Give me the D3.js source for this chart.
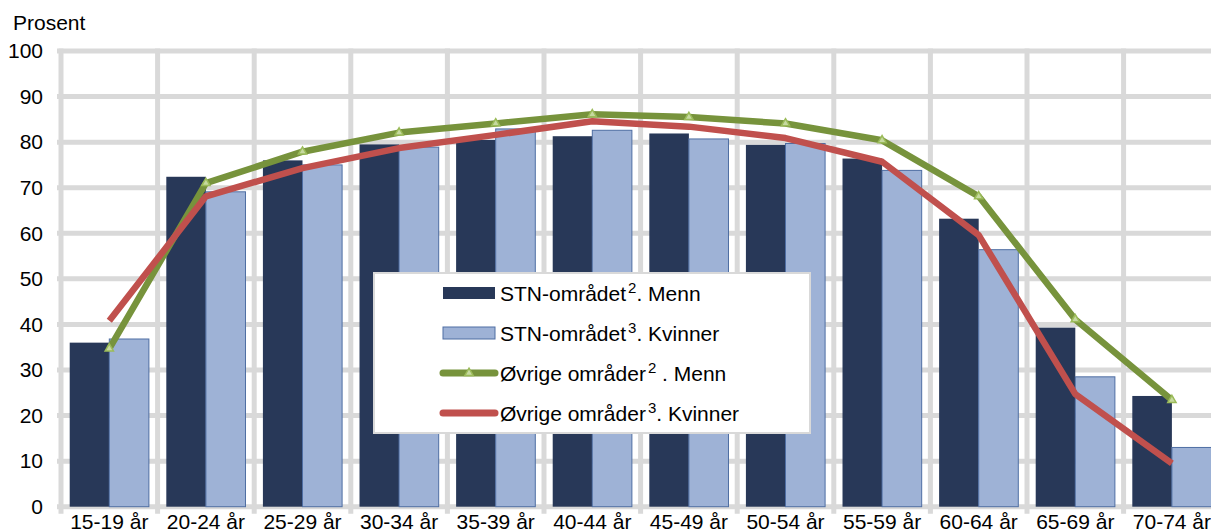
<!DOCTYPE html>
<html>
<head>
<meta charset="utf-8">
<script src="https://cdn.jsdelivr.net/npm/d3@7"></script>
<style>
  body { margin: 0; background: #fff; }
  svg { display: block; font-family: Arial, "Liberation Sans", sans-serif; }
</style>
</head>
<body>
<svg id="chart" width="1211" height="532"></svg>
<script>

// Data
var categories = ["15-19 år", "20-24 år", "25-29 år", "30-34 år", "35-39 år", "40-44 år",
                  "45-49 år", "50-54 år", "55-59 år", "60-64 år", "65-69 år", "70-74 år"];
var stnMenn     = [36.0, 72.4, 76.0, 79.5, 80.5, 81.3, 81.9, 79.4, 76.4, 63.2, 39.3, 24.3];
var stnKvinner  = [36.8, 69.1, 75.0, 78.9, 82.9, 82.6, 80.7, 79.7, 73.8, 56.4, 28.5, 13.0];
var ovrigeMenn    = [34.7, 71.0, 77.9, 82.1, 84.1, 86.1, 85.5, 84.1, 80.4, 68.1, 41.1, 23.4];
var ovrigeKvinner = [40.8, 68.1, 74.3, 78.7, 81.6, 84.6, 83.4, 80.9, 75.7, 59.6, 24.7, 9.5];
var yTicks = [0, 10, 20, 30, 40, 50, 60, 70, 80, 90, 100];

var settings = {
    left : 61,
    step : 96.6,   // px per category
    top : 51,
    bottom : 506.7,
    fontSize : 21,
    grid : "#d9d9d9",
    dark : "#283858",
    light : "#9eb2d6",
    lightStroke : "#4f6ea3",
    green : "#77933c",
    red : "#c0504d",
};

var svg = d3.select("#chart");

var x0 = d3.scaleBand()
    .domain(categories)
    .range([settings.left, settings.left + settings.step * categories.length])
    .padding(0);

var x1 = d3.scaleBand()
    .domain(["menn", "kvinner"])
    .range([0, x0.bandwidth()])
    .paddingInner(0)
    .paddingOuter(0.22);

var y = d3.scaleLinear().domain([0, 100]).range([settings.bottom, settings.top]);

// Horizontal gridlines
svg.append("g")
    .selectAll("line")
    .data(yTicks)
    .join("line")
    .attr("x1", settings.left - 4)
    .attr("x2", 1211)
    .attr("y1", function(d){ return y(d); })
    .attr("y2", function(d){ return y(d); })
    .attr("stroke", settings.grid)
    .attr("stroke-width", 5);

// Vertical gridlines at category borders (extend below as tick marks)
var borders = categories.map(function(c){ return x0(c); });
borders.push(x0.range()[1]);
svg.append("g")
    .selectAll("line")
    .data(borders)
    .join("line")
    .attr("x1", function(d){ return d; })
    .attr("x2", function(d){ return d; })
    .attr("y1", settings.top - 2.5)
    .attr("y2", settings.bottom + 7)
    .attr("stroke", settings.grid)
    .attr("stroke-width", 5);

// Y axis labels
var yAxis = svg.append("g")
    .attr("transform", "translate(43,0)")
    .call(d3.axisLeft(y).tickValues(yTicks).tickSize(0).tickPadding(0));
yAxis.select(".domain").remove();
yAxis.attr("font-size", settings.fontSize).attr("font-family", null);
yAxis.selectAll("text").attr("fill", "#000");

svg.append("text")
    .attr("x", 13)
    .attr("y", 30)
    .attr("font-size", settings.fontSize)
    .text("Prosent");

// X axis labels
var xAxis = svg.append("g")
    .attr("transform", "translate(0," + (settings.bottom + 7) + ")")
    .call(d3.axisBottom(x0).tickSize(0).tickPadding(0));
xAxis.select(".domain").remove();
xAxis.attr("font-size", settings.fontSize).attr("font-family", null);
xAxis.selectAll("text").attr("fill", "#000");

// Bars
var groups = svg.append("g")
    .selectAll("g")
    .data(categories)
    .join("g")
    .attr("transform", function(c){ return "translate(" + x0(c) + ",0)"; });

groups.append("rect")
    .attr("x", x1("menn"))
    .attr("width", x1.bandwidth())
    .attr("y", function(c, i){ return y(stnMenn[i]); })
    .attr("height", function(c, i){ return y(0) - y(stnMenn[i]); })
    .attr("fill", settings.dark);

groups.append("rect")
    .attr("x", x1("kvinner"))
    .attr("width", x1.bandwidth())
    .attr("y", function(c, i){ return y(stnKvinner[i]); })
    .attr("height", function(c, i){ return y(0) - y(stnKvinner[i]); })
    .attr("fill", settings.light)
    .attr("stroke", settings.lightStroke)
    .attr("stroke-width", 1);

// Lines
var cx = function(c){ return x0(c) + x0.bandwidth() / 2; };
var line = d3.line()
    .x(function(d){ return cx(d.c); })
    .y(function(d){ return y(d.v); });

function seriesPoints(vals){
    return categories.map(function(c, i){ return { c : c, v : vals[i] }; });
}

svg.append("path")
    .datum(seriesPoints(ovrigeMenn))
    .attr("d", line)
    .attr("fill", "none")
    .attr("stroke", settings.green)
    .attr("stroke-width", 6.5)
    .attr("stroke-linejoin", "round");

svg.append("path")
    .datum(seriesPoints(ovrigeKvinner))
    .attr("d", line)
    .attr("fill", "none")
    .attr("stroke", settings.red)
    .attr("stroke-width", 6.5)
    .attr("stroke-linejoin", "round");

var tri = d3.symbol().type(d3.symbolTriangle).size(30);
var cross = d3.symbol().type(d3.symbolX).size(45);

svg.append("g")
    .selectAll("path")
    .data(seriesPoints(ovrigeMenn))
    .join("path")
    .attr("d", tri)
    .attr("transform", function(d){ return "translate(" + cx(d.c) + "," + y(d.v) + ")"; })
    .attr("fill", "#c6d9a0")
    .attr("stroke", "#9bbb59")
    .attr("stroke-width", 1.5);

svg.append("g")
    .selectAll("path")
    .data(seriesPoints(ovrigeKvinner))
    .join("path")
    .attr("d", cross)
    .attr("transform", function(d){ return "translate(" + cx(d.c) + "," + y(d.v) + ")"; })
    .attr("fill", "#c8c8c8");

// Legend
var legend = svg.append("g").attr("transform", "translate(374,273)");
legend.append("rect")
    .attr("width", 436)
    .attr("height", 160)
    .attr("fill", "#fff")
    .attr("stroke", settings.grid)
    .attr("stroke-width", 2);

var legendItems = [
    { name : "STN-området", sup : "2", rest : ". Menn", kind : "bar", color : settings.dark },
    { name : "STN-området", sup : "3", rest : ". Kvinner", kind : "bar", color : settings.light },
    { name : "Øvrige områder", sup : "2", rest : " . Menn", kind : "line", color : settings.green },
    { name : "Øvrige områder", sup : "3", rest : ". Kvinner", kind : "line", color : settings.red },
];

var items = legend.selectAll("g.item")
    .data(legendItems)
    .join("g")
    .attr("class", "item")
    .attr("transform", function(d, i){ return "translate(0," + (20 + i * 40) + ")"; });

items.filter(function(d){ return d.kind === "bar"; })
    .append("rect")
    .attr("x", 69)
    .attr("y", -6)
    .attr("width", 52)
    .attr("height", 12)
    .attr("fill", function(d){ return d.color; })
    .attr("stroke", function(d){ return d.color === settings.light ? settings.lightStroke : "none"; })
    .attr("stroke-width", 1);

items.filter(function(d){ return d.kind === "line"; })
    .append("line")
    .attr("x1", 69)
    .attr("x2", 121)
    .attr("stroke", function(d){ return d.color; })
    .attr("stroke-width", 7)
    .attr("stroke-linecap", "round");

items.filter(function(d, i){ return i === 2; })
    .append("path")
    .attr("d", tri)
    .attr("transform", "translate(95,0)")
    .attr("fill", "#c6d9a0")
    .attr("stroke", "#9bbb59")
    .attr("stroke-width", 1.5);

items.filter(function(d, i){ return i === 3; })
    .append("path")
    .attr("d", cross)
    .attr("transform", "translate(95,0)")
    .attr("fill", "#c8c8c8");

var label = items.append("text")
    .attr("x", 126)
    .attr("y", 7.5)
    .attr("font-size", settings.fontSize);
label.append("tspan").text(function(d){ return d.name; });
label.append("tspan")
    .attr("font-size", 15)
    .attr("dy", -8)
    .attr("dx", 2)
    .text(function(d){ return d.sup; });
label.append("tspan")
    .attr("dy", 8)
    .text(function(d){ return d.rest; });

</script>
</body>
</html>
